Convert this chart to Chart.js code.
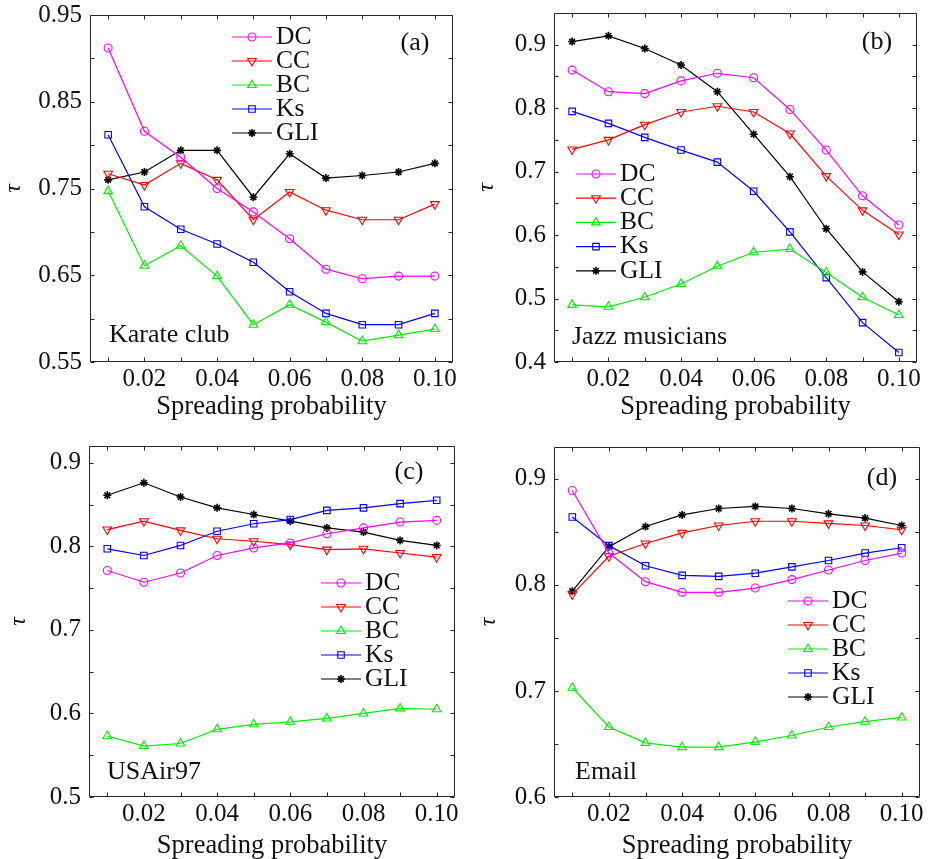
<!DOCTYPE html>
<html><head><meta charset="utf-8">
<script src="https://cdn.jsdelivr.net/npm/chart.js@4/dist/chart.umd.min.js"></script>
<style>
html,body{margin:0;padding:0;background:#fff;}
canvas{position:absolute;}
</style></head><body>
<canvas id="ca" width="465" height="420" style="left:0px;top:0px"></canvas>
<canvas id="cb" width="464" height="420" style="left:465px;top:0px"></canvas>
<canvas id="cc" width="465" height="439" style="left:0px;top:420px"></canvas>
<canvas id="cd" width="464" height="439" style="left:465px;top:420px"></canvas>
<script>
// ---------- data ----------
const spreadingProbability = [0.01,0.02,0.03,0.04,0.05,0.06,0.07,0.08,0.09,0.10];
const seriesNames = ['DC','CC','BC','Ks','GLI'];
const xTickValues = [0.01,0.02,0.03,0.04,0.05,0.06,0.07,0.08,0.09,0.10];
const xTickLabels = ['','0.02','','0.04','','0.06','','0.08','','0.10'];

// (a) Karate club
const karateDC  = [0.912,0.816,0.786,0.750,0.723,0.692,0.657,0.646,0.649,0.649];
const karateCC  = [0.767,0.754,0.779,0.760,0.714,0.746,0.725,0.714,0.714,0.732];
const karateBC  = [0.747,0.661,0.684,0.649,0.593,0.616,0.596,0.574,0.581,0.588];
const karateKs  = [0.812,0.729,0.703,0.686,0.665,0.631,0.606,0.593,0.593,0.606];
const karateGLI = [0.760,0.769,0.794,0.794,0.740,0.790,0.762,0.765,0.769,0.779];
const yTicksA  = [0.55,0.60,0.65,0.70,0.75,0.80,0.85,0.90,0.95];
const yLabelsA = ['0.55','','0.65','','0.75','','0.85','','0.95'];

// (b) Jazz musicians
const jazzDC  = [0.860,0.826,0.823,0.843,0.855,0.848,0.798,0.734,0.662,0.616];
const jazzCC  = [0.735,0.750,0.774,0.794,0.803,0.794,0.760,0.693,0.639,0.601];
const jazzBC  = [0.490,0.487,0.502,0.523,0.551,0.573,0.578,0.541,0.502,0.474];
const jazzKs  = [0.795,0.776,0.754,0.734,0.715,0.669,0.605,0.533,0.462,0.415];
const jazzGLI = [0.905,0.914,0.894,0.868,0.826,0.759,0.692,0.610,0.542,0.495];
const yTicksB  = [0.40,0.45,0.50,0.55,0.60,0.65,0.70,0.75,0.80,0.85,0.90,0.95];
const yLabelsB = ['0.4','','0.5','','0.6','','0.7','','0.8','','0.9',''];

// (c) USAir97
const usairDC  = [0.771,0.757,0.768,0.789,0.798,0.804,0.815,0.822,0.829,0.831];
const usairCC  = [0.820,0.830,0.819,0.809,0.806,0.802,0.796,0.797,0.792,0.787];
const usairBC  = [0.573,0.561,0.564,0.581,0.587,0.590,0.594,0.600,0.606,0.605];
const usairKs  = [0.797,0.789,0.801,0.818,0.827,0.832,0.843,0.846,0.851,0.855];
const usairGLI = [0.861,0.876,0.859,0.846,0.838,0.830,0.822,0.817,0.807,0.801];
const yTicksC  = [0.50,0.55,0.60,0.65,0.70,0.75,0.80,0.85,0.90];
const yLabelsC = ['0.5','','0.6','','0.7','','0.8','','0.9'];

// (d) Email
const emailDC  = [0.889,0.830,0.803,0.793,0.793,0.797,0.805,0.814,0.823,0.830];
const emailCC  = [0.791,0.827,0.839,0.849,0.856,0.860,0.860,0.858,0.856,0.852];
const emailBC  = [0.703,0.666,0.651,0.647,0.647,0.652,0.658,0.666,0.671,0.675];
const emailKs  = [0.864,0.837,0.818,0.809,0.808,0.811,0.817,0.823,0.830,0.835];
const emailGLI = [0.794,0.836,0.855,0.866,0.872,0.874,0.872,0.867,0.863,0.856];
const yTicksD  = [0.60,0.65,0.70,0.75,0.80,0.85,0.90];
const yLabelsD = ['0.6','','0.7','','0.8','','0.9'];

// ---------- styles ----------
const FONT = 'Liberation Serif';
const styles = [
  {color:'#ff00ff', pointStyle:'circle',   rotation:0,   radius:4,   bw:1.1},
  {color:'#ff0000', pointStyle:'triangle', rotation:180, radius:5,   bw:1.1},
  {color:'#00ee00', pointStyle:'triangle', rotation:0,   radius:5,   bw:1.1},
  {color:'#0000ff', pointStyle:'rect',     rotation:0,   radius:4.6, bw:1.1},
  {color:'#000000', pointStyle:'star',     rotation:0,   radius:4,   bw:1.6}
];

function drawMarker(ctx, st, x, y) {
  ctx.save();
  ctx.strokeStyle = st.color;
  ctx.fillStyle = 'rgba(0,0,0,0)';
  ctx.lineWidth = st.bw;
  if (Chart.helpers && Chart.helpers.drawPoint) {
    Chart.helpers.drawPoint(ctx, {pointStyle: st.pointStyle, rotation: st.rotation, radius: st.radius, borderWidth: st.bw}, x, y);
  }
  ctx.restore();
}

const framePlugin = {
  id: 'frame',
  beforeDatasetsDraw(chart) {
    const {ctx, chartArea: a, scales} = chart;
    ctx.save();
    ctx.strokeStyle = '#262626';
    ctx.lineWidth = 1;
    ctx.beginPath();
    const L = Math.round(a.left)+0.5, R = Math.round(a.right)-0.5, T = Math.round(a.top)+0.5, B = Math.round(a.bottom)-0.5;
    ctx.rect(L, T, R-L, B-T);
    const tl = 4;
    scales.x.ticks.forEach(t => {
      const px = Math.round(scales.x.getPixelForValue(t.value)) + 0.5;
      ctx.moveTo(px, B); ctx.lineTo(px, B - tl);
      ctx.moveTo(px, T); ctx.lineTo(px, T + tl);
    });
    scales.y.ticks.forEach(t => {
      const py = Math.round(scales.y.getPixelForValue(t.value)) + 0.5;
      ctx.moveTo(L, py); ctx.lineTo(L + tl, py);
      ctx.moveTo(R, py); ctx.lineTo(R - tl, py);
    });
    ctx.stroke();
    ctx.restore();
  },
  afterDraw(chart, args, o) {
    const {ctx} = chart;
    ctx.save();
    ctx.fillStyle = '#111';
    ctx.textBaseline = 'middle';
    ctx.textAlign = 'center';
    ctx.font = '26px "' + FONT + '"';
    ctx.fillText(o.panel, o.panelX, o.panelY);
    ctx.textAlign = 'left';
    ctx.fillText(o.net, o.netX, o.netY);
    // legend
    ctx.font = '25.5px "' + FONT + '"';
    chart.data.datasets.forEach((ds, i) => {
      const st = styles[i];
      const y = o.legY + i * o.legStep;
      ctx.strokeStyle = st.color;
      ctx.lineWidth = 1.2;
      ctx.beginPath();
      ctx.moveTo(o.legX, y); ctx.lineTo(o.legX + 40, y);
      ctx.stroke();
      drawMarker(ctx, st, o.legX + 20, y);
      ctx.fillStyle = '#111';
      ctx.textAlign = 'left';
      ctx.fillText(ds.label, o.legX + 44, y);
    });
    ctx.restore();
  }
};

function makePanel(id, series, yMin, yMax, yTicks, yLabels, geo, fr) {
  const canvas = document.getElementById(id);
  const W = canvas.width, H = canvas.height;
  const datasets = series.map((vals, i) => ({
    label: seriesNames[i],
    data: spreadingProbability.map((x, j) => ({x: x, y: vals[j]})),
    borderColor: styles[i].color,
    borderWidth: 1.2,
    pointStyle: styles[i].pointStyle,
    pointRotation: styles[i].rotation,
    pointRadius: styles[i].radius,
    pointBorderWidth: styles[i].bw,
    pointBorderColor: styles[i].color,
    pointBackgroundColor: 'rgba(0,0,0,0)',
    fill: false,
    tension: 0
  }));
  return new Chart(canvas, {
    type: 'line',
    data: {datasets},
    plugins: [framePlugin],
    options: {
      responsive: false,
      animation: false,
      devicePixelRatio: 1,
      layout: {padding: {left: 0, right: W - geo.right, top: geo.top, bottom: 0}},
      plugins: {legend: {display: false}, tooltip: {enabled: false}, frame: fr},
      scales: {
        x: {
          type: 'linear', min: 0.005, max: 0.105,
          afterBuildTicks: s => { s.ticks = xTickValues.map(v => ({value: v})); },
          afterFit: s => { s.height = H - geo.bottom; s.paddingLeft = 0; s.paddingRight = 0; },
          grid: {display: false, drawTicks: false},
          border: {display: false},
          ticks: {autoSkip: false, maxRotation: 0, padding: geo.xPad, color: '#111',
                  font: {family: FONT, size: 25},
                  callback: (v, i) => xTickLabels[i]},
          title: {display: true, text: 'Spreading probability', color: '#111',
                  font: {family: FONT, size: 26.5, lineHeight: 1}, padding: {top: 0, bottom: geo.xTitlePad}}
        },
        y: {
          type: 'linear', min: yMin, max: yMax,
          afterBuildTicks: s => { s.ticks = yTicks.map(v => ({value: v})); },
          afterFit: s => { s.width = geo.left; s.paddingTop = 0; s.paddingBottom = 0; },
          grid: {display: false, drawTicks: false},
          border: {display: false},
          ticks: {autoSkip: false, padding: 8, color: '#111',
                  font: {family: FONT, size: 25},
                  callback: (v, i) => yLabels[i]},
          title: {display: true, text: 'τ', color: '#111',
                  font: {family: FONT, size: 24, style: 'italic', lineHeight: 1}, padding: {top: geo.yTitlePad, bottom: 0}}
        }
      }
    }
  });
}

makePanel('ca', [karateDC, karateCC, karateBC, karateKs, karateGLI], 0.55, 0.95, yTicksA, yLabelsA,
  {left: 90, right: 453, top: 15, bottom: 362, xPad: 2, xTitlePad: 0, yTitlePad: 2},
  {panel: '(a)', panelX: 415, panelY: 43, net: 'Karate club', netX: 109, netY: 335, legX: 232, legY: 37, legStep: 24});
makePanel('cb', [jazzDC, jazzCC, jazzBC, jazzKs, jazzGLI], 0.40, 0.95, yTicksB, yLabelsB,
  {left: 89, right: 452, top: 13, bottom: 362, xPad: 2, xTitlePad: 0, yTitlePad: 10},
  {panel: '(b)', panelX: 412, panelY: 42, net: 'Jazz musicians', netX: 107, netY: 337, legX: 111, legY: 174, legStep: 24.2});
makePanel('cc', [usairDC, usairCC, usairBC, usairKs, usairGLI], 0.50, 0.92, yTicksC, yLabelsC,
  {left: 89, right: 455, top: 26, bottom: 377, xPad: 2, xTitlePad: 0, yTitlePad: 7},
  {panel: '(c)', panelX: 409, panelY: 52, net: 'USAir97', netX: 107, netY: 352, legX: 321, legY: 163, legStep: 24});
makePanel('cd', [emailDC, emailCC, emailBC, emailKs, emailGLI], 0.60, 0.93, yTicksD, yLabelsD,
  {left: 89, right: 455, top: 27, bottom: 377, xPad: 2, xTitlePad: 0, yTitlePad: 12},
  {panel: '(d)', panelX: 417, panelY: 58, net: 'Email', netX: 110, netY: 352, legX: 323, legY: 181, legStep: 24});
</script>
</body></html>
